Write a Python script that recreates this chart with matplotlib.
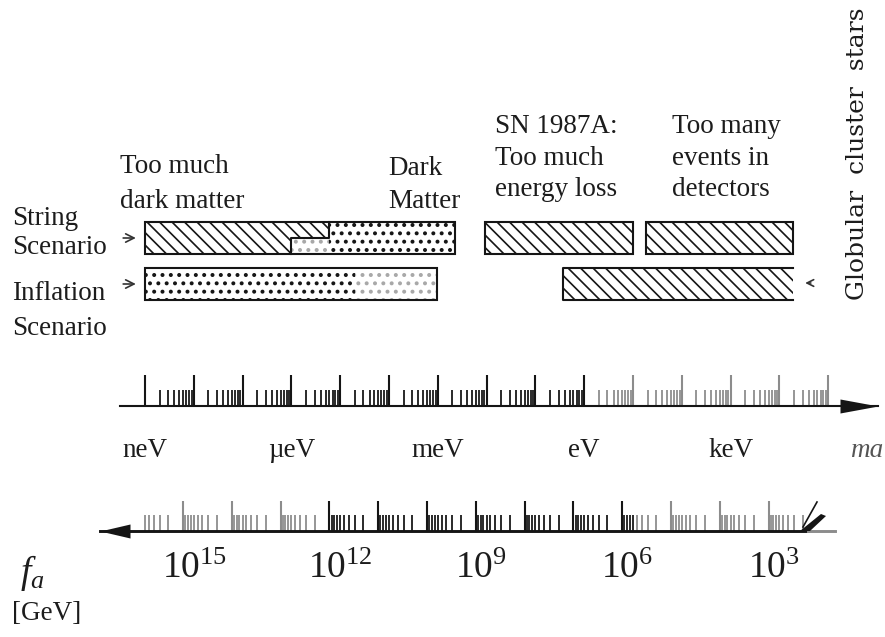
import matplotlib

matplotlib.use("Agg")
import matplotlib.pyplot as plt
import numpy as np
from matplotlib.patches import Polygon
from matplotlib.path import Path

# ---- data: axion mass in eV, decay constant f_a in GeV ----
MASS_DECADES = [-9, -8, -7, -6, -5, -4, -3, -2, -1, 0, 1, 2, 3, 4, 5]
MASS_UNIT_LABELS = ["neV", "µeV", "meV", "eV", "keV"]
MASS_UNIT_DECADES = [-9, -6, -3, 0, 3]
FA_DECADES = [16, 15, 14, 13, 12, 11, 10, 9, 8, 7, 6, 5, 4, 3]
FA_LABEL_EXPONENTS = [15, 12, 9, 6, 3]
FA_TIMES_MA = 6.0e6          # m_a [eV] = 6e6 / f_a [GeV]
MINOR_MULTIPLES = [2, 3, 4, 5, 6, 7, 8, 9]

STRING_HATCH_TOP = (1.0e-9, 6.0e-6)
STRING_HATCH_BOTTOM = (1.0e-9, 1.0e-6)
STRING_END = 2.2e-3
INFLATION_RANGE = (1.0e-9, 9.5e-4)
INFLATION_DENSE_END = 2.0e-5
SN1987A_RANGE = (9.3e-3, 10.0)
DETECTOR_RANGE = (18.6, 1.9e4)
GLOBULAR_RANGE = (0.37, 1.9e4)

TOP_DARK_RANGE = (1.0e-9, 1.0)      # mass axis ticks drawn black
BOTTOM_DARK_RANGE = (6.0e-6, 10.0)  # f_a axis ticks drawn black (as mass)

# ---- layout (pixels of the 885x637 canvas) ----
W, H = 885, 637
DPI = 150
NEV_PX = 145.0
PX_PER_DECADE = 48.8
STRING_ROW = (222, 254)
INFL_ROW = (268, 300)
MASS_AXIS_Y = 406
FA_AXIS_Y = 531

DARK = "#151515"
GRAY = "#8c8c8c"
LIGHT_DOTS = "#a8a8a8"
TEXT = "#1c1c1c"
SERIF = ["Liberation Serif", "DejaVu Serif"]

plt.rcParams["font.family"] = SERIF
plt.rcParams["mathtext.fontset"] = "custom"
plt.rcParams["mathtext.rm"] = "Liberation Serif"
plt.rcParams["mathtext.it"] = "Liberation Serif:italic"
plt.rcParams["hatch.linewidth"] = 0.8


def m_at_px(xpx):
    return 10.0 ** ((xpx - NEV_PX) / PX_PER_DECADE - 9)


def box(x0, x1, row):
    top, bottom = row
    return [(x0, top), (x1, top), (x1, bottom), (x0, bottom)]


def fill(ax, verts, hatch, color, hatch_lw=0.8):
    with plt.rc_context({"hatch.linewidth": hatch_lw}):
        ax.add_patch(Polygon(verts, closed=True, facecolor="white", edgecolor=color,
                             lw=0, hatch=hatch, zorder=1))


def dots(ax, verts, color):
    fill(ax, verts, "...", color, hatch_lw=1.1)


def outline(ax, verts):
    ax.add_patch(Polygon(verts, closed=True, fill=False, edgecolor=DARK, lw=1.0, zorder=3))


def draw_ticks(ax, masses, axis_y, length, dark_range, lw):
    masses = np.asarray(masses, dtype=float)
    lo, hi = dark_range
    dark = (masses >= lo * 0.999) & (masses <= hi * 1.001)
    ax.vlines(masses[dark], axis_y - length, axis_y, colors=DARK, lw=lw, zorder=2)
    ax.vlines(masses[~dark], axis_y - length, axis_y, colors=GRAY, lw=lw, zorder=2)


def arrow_head(ax, x, y, length_px, half_px, pointing, color=DARK):
    s = -1 if pointing == "right" else 1
    marker = Path([(0, 0), (s, half_px / length_px), (s, -half_px / length_px), (0, 0)],
                  [Path.MOVETO, Path.LINETO, Path.LINETO, Path.CLOSEPOLY])
    ms = 2 * length_px * 72 / DPI
    ax.plot([x], [y], marker=marker, ms=ms, color=color, mew=0, zorder=4)


def text_lines(lay, x, baselines, lines, size=13):
    for y, line in zip(baselines, lines):
        lay.text(x, y, line, fontsize=size, color=TEXT, va="baseline", ha="left")


fig = plt.figure(figsize=(W / DPI, H / DPI), dpi=DPI)
ax = fig.add_axes([0, 0, 1, 1])
ax.set_xscale("log")
ax.set_xlim(m_at_px(0), m_at_px(W))
ax.set_ylim(H, 0)
ax.axis("off")

lay = fig.add_axes([0, 0, 1, 1], facecolor="none")
lay.set_xlim(0, W)
lay.set_ylim(H, 0)
lay.axis("off")

# ---- exclusion bars ----
s_top, s_bot = STRING_ROW
s_mid = (s_top + s_bot) / 2
hatch_shape = [(STRING_HATCH_TOP[0], s_top), (STRING_HATCH_TOP[1], s_top),
               (STRING_HATCH_TOP[1], s_mid), (STRING_HATCH_BOTTOM[1], s_mid),
               (STRING_HATCH_BOTTOM[1], s_bot), (STRING_HATCH_BOTTOM[0], s_bot)]
dots(ax, box(STRING_HATCH_BOTTOM[1], STRING_HATCH_TOP[1], (s_mid, s_bot)), LIGHT_DOTS)
dots(ax, box(STRING_HATCH_TOP[1], STRING_END, STRING_ROW), DARK)
fill(ax, hatch_shape, "\\\\\\\\", DARK)
outline(ax, box(STRING_HATCH_TOP[0], STRING_END, STRING_ROW))
ax.plot([STRING_HATCH_TOP[1], STRING_HATCH_TOP[1], STRING_HATCH_BOTTOM[1], STRING_HATCH_BOTTOM[1]],
        [s_top, s_mid, s_mid, s_bot], color=DARK, lw=1.0, zorder=3)

dots(ax, box(INFLATION_RANGE[0], INFLATION_DENSE_END, INFL_ROW), DARK)
dots(ax, box(INFLATION_DENSE_END, INFLATION_RANGE[1], INFL_ROW), LIGHT_DOTS)
outline(ax, box(*INFLATION_RANGE, INFL_ROW))

for rng in (SN1987A_RANGE, DETECTOR_RANGE):
    fill(ax, box(*rng, STRING_ROW), "\\\\\\\\", DARK)
    outline(ax, box(*rng, STRING_ROW))

g0, g1 = GLOBULAR_RANGE
fill(ax, box(g0, g1, INFL_ROW), "\\\\\\\\", DARK)
ax.plot([g1, g0, g0, g1], [INFL_ROW[0], INFL_ROW[0], INFL_ROW[1], INFL_ROW[1]],
        color=DARK, lw=1.0, zorder=3)

# ---- mass axis ----
mass_major = [10.0 ** d for d in MASS_DECADES]
mass_minor = [k * 10.0 ** d for d in MASS_DECADES[:-1] for k in MINOR_MULTIPLES]
draw_ticks(ax, mass_major, MASS_AXIS_Y, 31, TOP_DARK_RANGE, 1.0)
draw_ticks(ax, mass_minor, MASS_AXIS_Y, 16, TOP_DARK_RANGE, 0.85)
ax.plot([m_at_px(120), m_at_px(878)], [MASS_AXIS_Y, MASS_AXIS_Y], color=DARK, lw=1.0, zorder=3)
arrow_head(ax, m_at_px(878), MASS_AXIS_Y, 38, 7, "right")
for d, lab in zip(MASS_UNIT_DECADES, MASS_UNIT_LABELS):
    ax.text(10.0 ** d, 457, lab, fontsize=13, color=TEXT, ha="center", va="baseline")
lay.text(850, 457, "ma", fontsize=13, style="italic", color="#555555", va="baseline")

# ---- f_a axis ----
fa_major = [FA_TIMES_MA / 10.0 ** n for n in FA_DECADES]
fa_minor = [FA_TIMES_MA / (k * 10.0 ** (n - 1)) for n in FA_DECADES for k in MINOR_MULTIPLES]
fa_major = [m for m in fa_major if m >= 1.0e-9]
fa_minor = [m for m in fa_minor if m >= 1.0e-9]
draw_ticks(ax, fa_major, FA_AXIS_Y, 30, BOTTOM_DARK_RANGE, 1.0)
draw_ticks(ax, fa_minor, FA_AXIS_Y, 16, BOTTOM_DARK_RANGE, 0.85)
ax.plot([m_at_px(100), m_at_px(808)], [FA_AXIS_Y, FA_AXIS_Y], color=DARK, lw=1.4, zorder=3)
ax.plot([m_at_px(808), m_at_px(835)], [FA_AXIS_Y, FA_AXIS_Y], color=GRAY, lw=1.4, zorder=3)
arrow_head(ax, m_at_px(100), FA_AXIS_Y, 30, 7, "left")
for n in FA_LABEL_EXPONENTS:
    ax.annotate(f"$10^{{{n}}}$", xy=(FA_TIMES_MA / 10.0 ** n, 578), xytext=(-21, 0),
                textcoords="offset pixels", fontsize=18, color=TEXT, ha="left", va="baseline")

# small pointer at the end of the f_a axis
lay.plot([817, 803], [502, 527], color=DARK, lw=0.8)
lay.add_patch(Polygon([(800, 531), (821, 514), (826, 516), (810, 531)], closed=True,
                      facecolor=DARK, edgecolor="none"))

lay.text(20, 583, "$f_a$", fontsize=18, color=TEXT, va="baseline")
lay.text(12, 620, "[GeV]", fontsize=13, color=TEXT, va="baseline")

# ---- labels ----
text_lines(lay, 12, [225, 254], ["String", "Scenario"])
text_lines(lay, 12, [300, 335], ["Inflation", "Scenario"])
text_lines(lay, 120, [173, 208], ["Too much", "dark matter"])
text_lines(lay, 388, [175, 208], ["Dark", "Matter"])
text_lines(lay, 495, [133, 165, 196], ["SN 1987A:", "Too much", "energy loss"])
text_lines(lay, 672, [133, 165, 196], ["Too many", "events in", "detectors"])
lay.text(857, 300, "Globular  cluster  stars", rotation=90, fontsize=12.0, color=TEXT,
         family=["DejaVu Serif"], ha="center", va="bottom")

for y in (s_mid, (INFL_ROW[0] + INFL_ROW[1]) / 2):
    lay.annotate("", xy=(140, y), xytext=(119, y),
                 arrowprops=dict(arrowstyle="->", lw=0.8, color="#333333", mutation_scale=10))
lay.annotate("", xy=(801, 283), xytext=(815, 283),
             arrowprops=dict(arrowstyle="->", lw=0.8, color="#333333", mutation_scale=8))

fig.savefig("out.png", dpi=DPI)
